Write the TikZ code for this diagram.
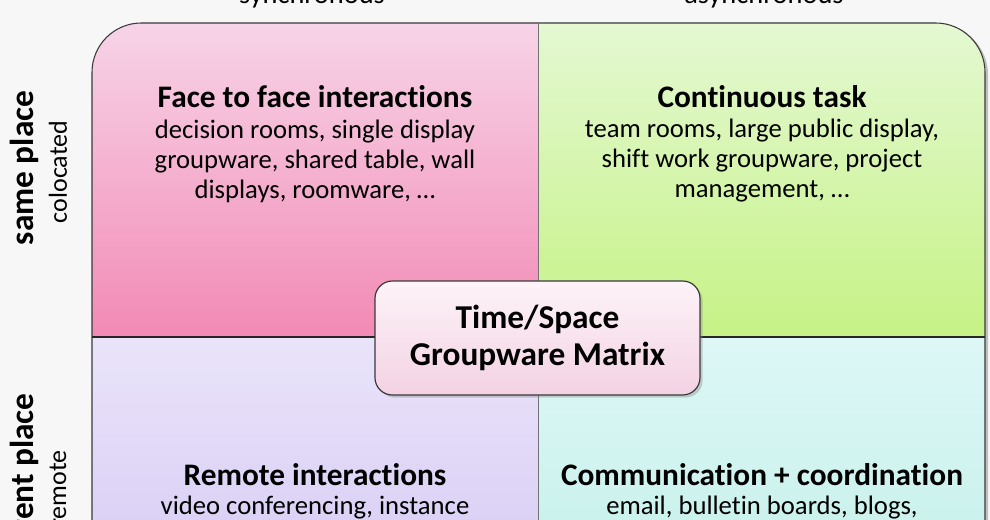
\documentclass[tikz,border=0pt]{standalone}
\usepackage{fontspec}
\setmainfont{Carlito}[Ligatures=NoCommon]
\usetikzlibrary{shadows}
\definecolor{tlTop}{HTML}{F7D4E8}
\definecolor{tlBot}{HTML}{F28AB5}
\definecolor{trTop}{HTML}{E4F8D2}
\definecolor{trBot}{HTML}{C6F286}
\definecolor{blTop}{HTML}{EAE4FA}
\definecolor{blBot}{HTML}{D6CAF4}
\definecolor{brTop}{HTML}{DDF7F6}
\definecolor{brBot}{HTML}{C4F0EA}
\definecolor{ctTop}{HTML}{FDF3F8}
\definecolor{ctBot}{HTML}{F3D2E3}
\definecolor{edge}{HTML}{3A3A3A}
\tikzset{
  qtitle/.style={font=\fontsize{23.5}{28}\selectfont\bfseries, inner sep=0pt, anchor=base},
  qtext/.style={align=center, font=\fontsize{20}{22.5}\selectfont, inner sep=0pt},
  ctext/.style={align=center, font=\fontsize{25}{27.75}\selectfont\bfseries, inner sep=0pt},
  sidebold/.style={rotate=90, font=\fontsize{25}{28}\selectfont\bfseries, inner sep=0pt},
  sidereg/.style={rotate=90, font=\fontsize{19.5}{23}\selectfont, inner sep=0pt},
  toplabel/.style={font=\fontsize{21.3}{25}\selectfont, inner sep=0pt, anchor=base},
  centerbox/.style={draw=edge, line width=0.9pt, rounded corners=13pt,
    top color=ctTop, bottom color=ctBot, drop shadow={shadow xshift=2pt, shadow yshift=-2pt, opacity=0.35},
    minimum width=243.75pt, minimum height=85.5pt}
}
\begin{document}
\begin{tikzpicture}[x=0.75pt,y=-0.75pt]
\useasboundingbox (0,0) rectangle (990,520);
\fill[white!97!black] (0,0) rectangle (990,520);
% outer shadow
\fill[black!25, rounded corners=37pt] (95,600) |- (988,25) -- (988,600) -- cycle;
\begin{scope}
  \clip[rounded corners=37pt] (92,600) |- (985,23) -- (985,600) -- cycle;
  \shade[top color=tlTop, bottom color=tlBot] (92,23) rectangle (538,337);
  \shade[top color=trTop, bottom color=trBot] (538,23) rectangle (985,337);
  \shade[top color=blTop, bottom color=blBot] (92,337) rectangle (538,600);
  \shade[top color=brTop, bottom color=brBot] (538,337) rectangle (985,600);
\end{scope}
\draw[edge, line width=0.8pt, rounded corners=37pt] (92,600) |- (985,23) -- (985,600);
\coordinate (vtop) at (538,23);
\coordinate (vbot) at (538,520);
\coordinate (hl) at (92,337);
\coordinate (hr) at (985,337);
\draw[black!55, line width=0.6pt] (vtop) -- (vbot);
\draw[black!85, line width=1pt] (hl) -- (hr);

\node[toplabel] (sync) at (312,4) {synchronous};
\node[toplabel] (async) at (764,4) {asynchronous};

\node[sidebold] (same) at (24,168) {same place};
\node[sidereg] (coloc) at (58,172) {colocated};
\node[sidebold, anchor=east] (diff) at (24,393) {different place};
\node[sidereg, anchor=east] (remote) at (58,450) {remote};

\node[qtitle] (tlh) at (315,108) {Face to face interactions};
\node[qtext] (tl) at (315,161) {decision rooms, single display\\groupware, shared table, wall\\displays, roomware, …};
\node[qtitle] (trh) at (762,108) {Continuous task};
\node[qtext] (tr) at (762,161) {team rooms, large public display,\\shift work groupware, project\\management, …};
\node[qtitle] (blh) at (315,485) {Remote interactions};
\node[qtext, anchor=base] (bl) at (315,515) {video conferencing, instance};
\node[qtitle] (brh) at (762,485) {Communication + coordination};
\node[qtext, anchor=base] (br) at (762,515) {email, bulletin boards, blogs,};

\node[centerbox] (cbox) at (537.5,338) {};
\node[ctext] (ctitle) at (cbox.center) {Time/Space\\Groupware Matrix};
\end{tikzpicture}
\end{document}
